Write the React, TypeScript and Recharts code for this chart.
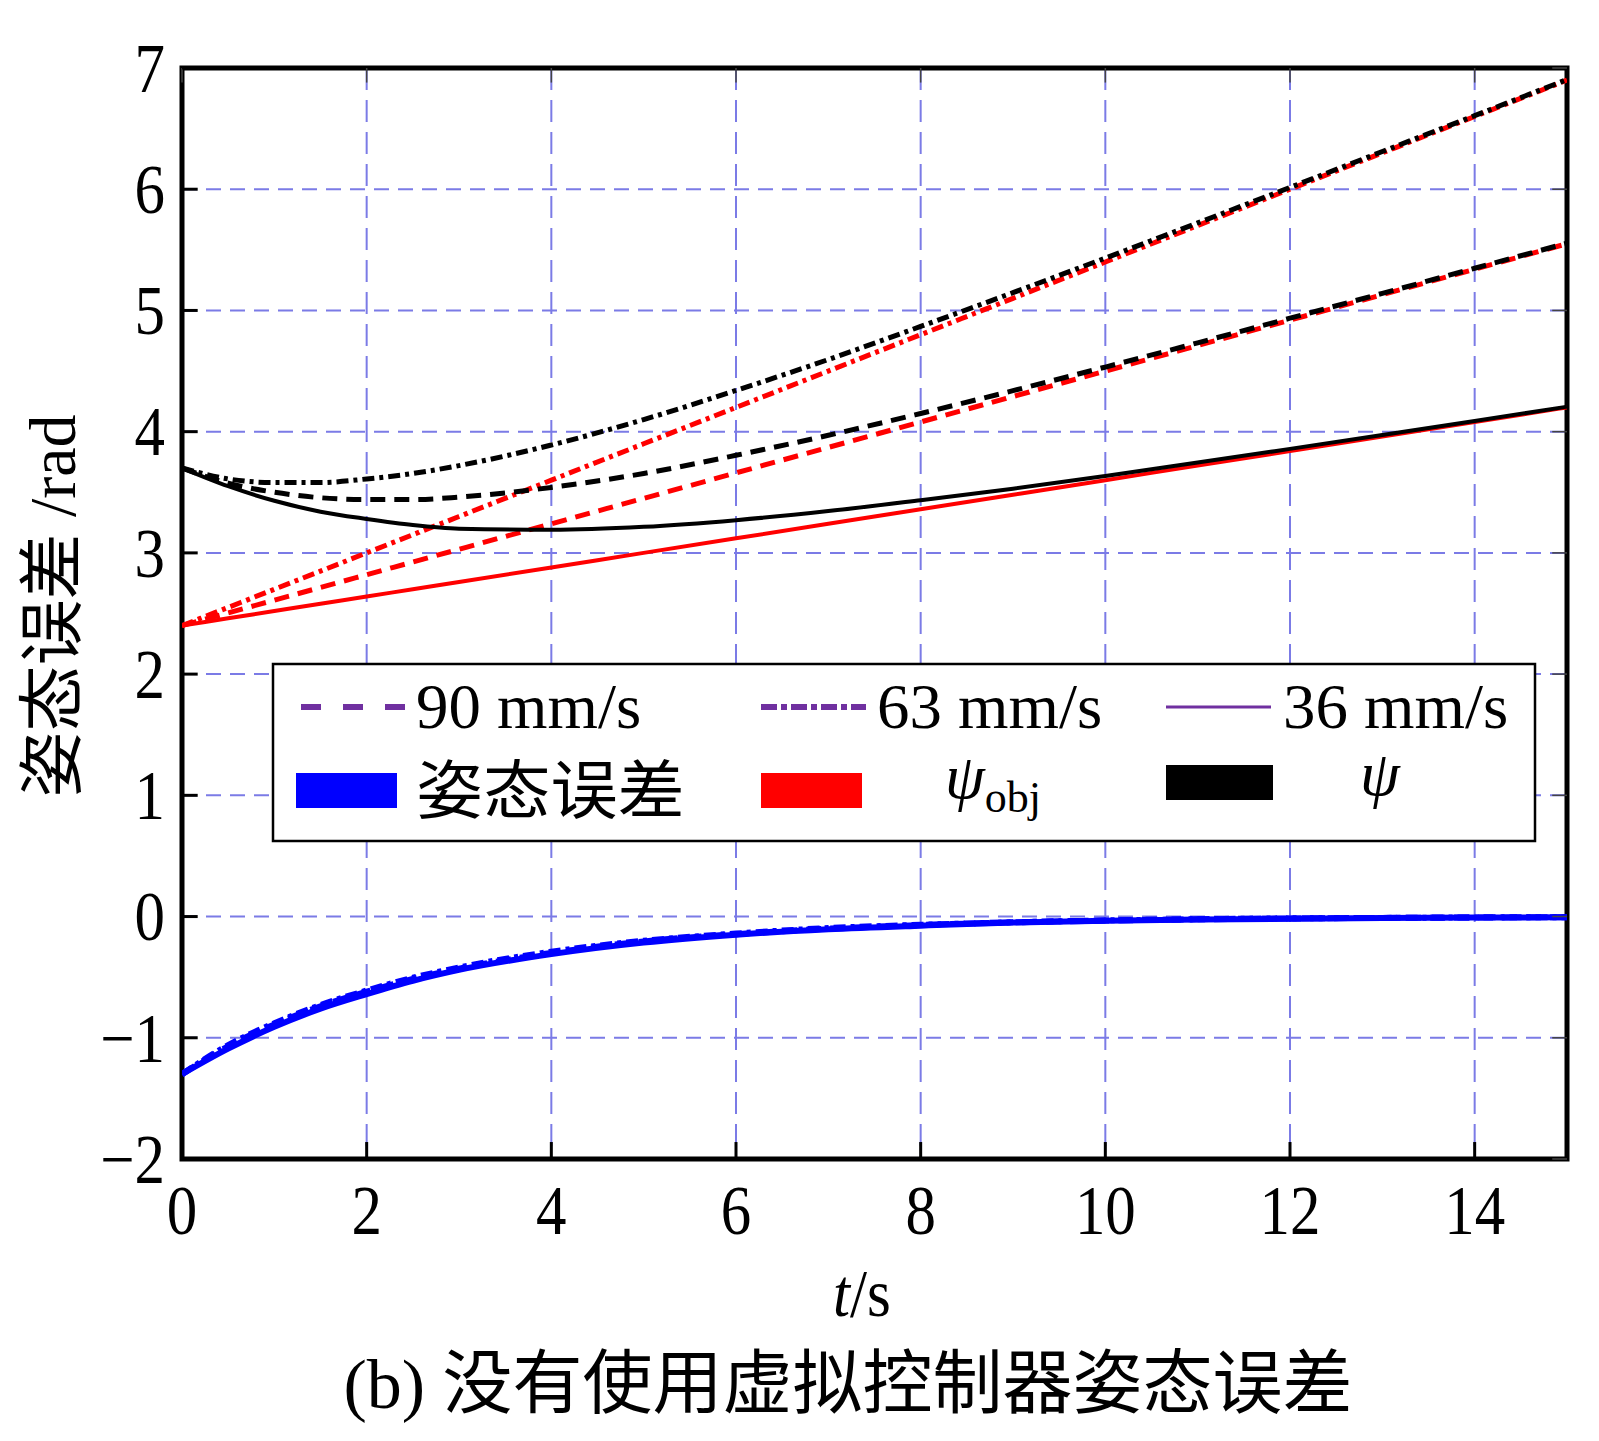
import {
  CartesianGrid,
  Line,
  LineChart,
  ReferenceArea,
  ReferenceLine,
  XAxis,
  YAxis,
} from 'recharts';

// time axis, seconds
const times = [0, 0.5, 1, 1.5, 2, 2.5, 3, 4, 5, 6, 7, 8, 9, 10, 11, 12, 13, 14, 15];

// target heading psi_obj (red)
const psiObj90 = [2.4, 2.505, 2.61, 2.715, 2.82, 2.925, 3.03, 3.24, 3.45, 3.66, 3.87, 4.08, 4.29, 4.5, 4.71, 4.92, 5.13, 5.34, 5.55];
const psiObj63 = [2.4, 2.55, 2.7, 2.85, 3.0, 3.15, 3.3, 3.6, 3.9, 4.2, 4.5, 4.8, 5.1, 5.4, 5.7, 6.0, 6.3, 6.6, 6.9];
const psiObj36 = [2.4, 2.46, 2.52, 2.58, 2.64, 2.7, 2.76, 2.88, 3.0, 3.12, 3.24, 3.36, 3.48, 3.6, 3.72, 3.84, 3.96, 4.08, 4.2];

// actual heading psi (black)
const psi90 = [3.7, 3.575, 3.5, 3.455, 3.44, 3.44, 3.46, 3.54, 3.655, 3.805, 3.97, 4.15, 4.338, 4.533, 4.733, 4.936, 5.141, 5.348, 5.555];
const psi63 = [3.7, 3.61, 3.58, 3.58, 3.61, 3.655, 3.72, 3.89, 4.1, 4.34, 4.595, 4.868, 5.147, 5.432, 5.722, 6.015, 6.311, 6.607, 6.905];
const psi36 = [3.7, 3.55, 3.43, 3.34, 3.28, 3.23, 3.2, 3.19, 3.215, 3.27, 3.345, 3.435, 3.53, 3.635, 3.745, 3.858, 3.972, 4.088, 4.206];

// heading error (blue)
const err90 = [-1.3, -1.07, -0.89, -0.74, -0.62, -0.515, -0.43, -0.3, -0.205, -0.145, -0.1, -0.07, -0.048, -0.033, -0.023, -0.016, -0.011, -0.008, -0.005];
const err63 = [-1.3, -1.06, -0.88, -0.73, -0.61, -0.505, -0.42, -0.29, -0.2, -0.14, -0.095, -0.068, -0.047, -0.032, -0.022, -0.015, -0.011, -0.007, -0.005];
const err36 = [-1.3, -1.09, -0.91, -0.76, -0.64, -0.53, -0.44, -0.31, -0.215, -0.15, -0.105, -0.075, -0.05, -0.035, -0.025, -0.018, -0.012, -0.008, -0.006];

const xTicks = [0, 2, 4, 6, 8, 10, 12, 14];
const yTicks = [-2, -1, 0, 1, 2, 3, 4, 5, 6, 7];

const speedLabels = ['90 mm/s', '63 mm/s', '36 mm/s'];
const quantityLabels = ['姿态误差', 'ψ', 'ψ'];

const DASH = '15 9';
const DASHDOT = '12 5 4 5';

const series = [
  { key: 'err36', color: '#0000ff', dash: undefined, width: 6 },
  { key: 'err90', color: '#0000ff', dash: DASH, width: 6 },
  { key: 'err63', color: '#0000ff', dash: DASHDOT, width: 6 },
  { key: 'obj36', color: '#ff0000', dash: undefined, width: 4 },
  { key: 'obj90', color: '#ff0000', dash: DASH, width: 5 },
  { key: 'obj63', color: '#ff0000', dash: DASHDOT, width: 5 },
  { key: 'psi36', color: '#000000', dash: undefined, width: 4 },
  { key: 'psi90', color: '#000000', dash: DASH, width: 5 },
  { key: 'psi63', color: '#000000', dash: DASHDOT, width: 5 },
];

const rows = times.map((t, i) => ({
  t,
  obj90: psiObj90[i],
  obj63: psiObj63[i],
  obj36: psiObj36[i],
  psi90: psi90[i],
  psi63: psi63[i],
  psi36: psi36[i],
  err90: err90[i],
  err63: err63[i],
  err36: err36[i],
}));

const SERIF = '"Liberation Serif", "Times New Roman", "Noto Sans CJK SC", serif';
const PURPLE = '#7030a0';
const GRID = '#7b7be6';

const fmt = (v: number) => (v < 0 ? `\u2212${Math.abs(v)}` : `${v}`);

function XTick(props: any) {
  const { x, y, payload } = props;
  return (
    <text
      transform={`translate(${x},${y}) scale(0.87,1)`}
      textAnchor="middle"
      dy="0.71em"
      fontSize={70}
      fontFamily={SERIF}
      fill="#000"
    >
      {fmt(payload.value)}
    </text>
  );
}

function YTick(props: any) {
  const { x, y, payload } = props;
  return (
    <text
      transform={`translate(${x},${y}) scale(0.87,1)`}
      textAnchor="end"
      dy="0.34em"
      fontSize={70}
      fontFamily={SERIF}
      fill="#000"
    >
      {fmt(payload.value)}
    </text>
  );
}

export default function App() {
  const sampleCols = [301, 761, 1166];
  const textCols = [416, 877, 1283];
  const dashes = ['20 22', '16 4 6 4', undefined];
  const boxColors = ['#0000ff', '#ff0000', '#000000'];

  return (
    <div style={{ position: 'absolute', left: 0, top: 0, width: 1599, height: 1441, background: '#fff' }}>
      <LineChart
        width={1599}
        height={1441}
        data={rows}
        margin={{ top: 68, right: 32, bottom: 222, left: 82 }}
      >
        <CartesianGrid vertical={false} stroke={GRID} strokeDasharray="15 9" strokeWidth={2} />
        <CartesianGrid horizontal={false} stroke={GRID} strokeDasharray="22 10" strokeWidth={2} />
        <XAxis
          dataKey="t"
          type="number"
          domain={[0, 15]}
          ticks={xTicks}
          height={60}
          axisLine={false}
          tickLine={false}
          tickSize={0}
          tickMargin={25}
          tick={XTick}
          interval={0}
          allowDataOverflow
        />
        <YAxis
          type="number"
          domain={[-2, 7]}
          ticks={yTicks}
          width={100}
          axisLine={false}
          tickLine={false}
          tickSize={0}
          tickMargin={17}
          tick={YTick}
          interval={0}
          allowDataOverflow
        />
        {series.map((s) => (
          <Line
            key={s.key}
            type="monotone"
            dataKey={s.key}
            stroke={s.color}
            strokeWidth={s.width}
            strokeDasharray={s.dash}
            dot={false}
            activeDot={false}
            isAnimationActive={false}
          />
        ))}
        {xTicks.map((t) => (
          <ReferenceLine
            key={`bt${t}`}
            segment={[{ x: t, y: -2 }, { x: t, y: -1.86 }]}
            stroke="#000"
            strokeWidth={3}
          />
        ))}
        {xTicks.map((t) => (
          <ReferenceLine
            key={`tt${t}`}
            segment={[{ x: t, y: 7 }, { x: t, y: 6.88 }]}
            stroke="#444"
            strokeWidth={1.5}
          />
        ))}
        {yTicks.map((v) => (
          <ReferenceLine
            key={`lt${v}`}
            segment={[{ x: 0, y: v }, { x: 0.17, y: v }]}
            stroke="#000"
            strokeWidth={3}
          />
        ))}
        {yTicks.map((v) => (
          <ReferenceLine
            key={`rt${v}`}
            segment={[{ x: 15, y: v }, { x: 14.84, y: v }]}
            stroke="#444"
            strokeWidth={1.5}
          />
        ))}
        <ReferenceArea x1={0} x2={15} y1={-2} y2={7} fill="none" fillOpacity={0} stroke="#000" strokeWidth={5} />
      </LineChart>

      <svg
        width={1599}
        height={1441}
        style={{ position: 'absolute', left: 0, top: 0, pointerEvents: 'none' }}
      >
        {/* legend */}
        <rect x={273} y={664} width={1262} height={177} fill="#fff" stroke="#000" strokeWidth={2.5} />
        {speedLabels.map((label, i) => (
          <g key={label}>
            <line
              x1={sampleCols[i]}
              x2={sampleCols[i] + 105}
              y1={707}
              y2={707}
              stroke={PURPLE}
              strokeWidth={i === 2 ? 3 : 6}
              strokeDasharray={dashes[i]}
            />
            <text
              transform={`translate(${textCols[i]},728) scale(1.03,1)`}
              fontSize={63}
              fontFamily={SERIF}
            >
              {label}
            </text>
          </g>
        ))}
        {quantityLabels.map((label, i) => (
          <rect
            key={`box${i}`}
            x={sampleCols[i] - (i === 0 ? 5 : 0)}
            y={i === 2 ? 765 : 773}
            width={i === 2 ? 107 : 101}
            height={35}
            fill={boxColors[i]}
          />
        ))}
        <text
          transform="translate(416,813) scale(1.05,1)"
          fontSize={64}
          fontFamily='"Noto Sans CJK SC", sans-serif'
        >
          {quantityLabels[0]}
        </text>
        <text x={945} y={798} fontSize={64} fontFamily={SERIF} fontStyle="italic">
          {quantityLabels[1]}
          <tspan fontStyle="normal" fontSize={44} dy={14}>
            obj
          </tspan>
        </text>
        <text x={1360} y={795} fontSize={64} fontFamily={SERIF} fontStyle="italic">
          {quantityLabels[2]}
        </text>

        {/* axis titles */}
        <text
          transform="translate(75,606) rotate(-90)"
          textAnchor="middle"
          fontSize={66}
          fontFamily={SERIF}
        >
          姿态误差 /rad
        </text>
        <text
          transform="translate(862,1316) scale(0.9,1)"
          textAnchor="middle"
          fontSize={68}
          fontFamily={SERIF}
        >
          <tspan fontStyle="italic">t</tspan>/s
        </text>
        <text x={848} y={1408} textAnchor="middle" fontSize={70} fontFamily={SERIF}>
          (b) 没有使用虚拟控制器姿态误差
        </text>
      </svg>
    </div>
  );
}
